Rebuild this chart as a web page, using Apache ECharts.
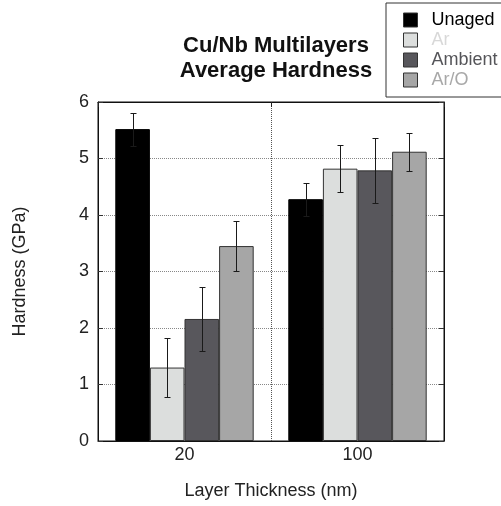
<!DOCTYPE html>
<html>
<head>
<meta charset="utf-8">
<script src="https://cdn.jsdelivr.net/npm/echarts@6/dist/echarts.min.js"></script>
<style>
  html, body { margin: 0; padding: 0; background: #fff; }
  #chart { width: 501px; height: 506px; }
</style>
</head>
<body>
<div id="chart"></div>
<script>
// Layer thickness categories (nm)
const categories = ['20', '100'];

// Average hardness (GPa) per aging condition, with +/- error
const unaged = [5.52, 4.28];
const unagedErr = [0.29, 0.29];
const ar = [1.30, 4.82];
const arErr = [0.52, 0.42];
const ambient = [2.16, 4.79];
const ambientErr = [0.56, 0.58];
const arO = [3.45, 5.12];
const arOErr = [0.44, 0.34];

const seriesNames = ['Unaged', 'Ar', 'Ambient', 'Ar/O'];
const seriesValues = [unaged, ar, ambient, arO];
const seriesErrors = [unagedErr, arErr, ambientErr, arOErr];
const barColors = ['#000000', '#dcdedd', '#58575c', '#a6a6a6'];
const legendTextColors = ['#000000', '#d8d8d8', '#555559', '#a8a8a8'];

const FONT = '"Liberation Sans", Arial, Helvetica, sans-serif';
const CATEGORY_GAP = 0.2;

// Error-bar records: [categoryIndex, low, high, seriesIndex]
const errData = [];
seriesValues.forEach((vals, s) => {
  vals.forEach((v, c) => {
    errData.push([c, v - seriesErrors[s][c], v + seriesErrors[s][c], s]);
  });
});

function renderErrorBar(params, api) {
  const c = api.value(0);
  const lo = api.value(1);
  const hi = api.value(2);
  const s = api.value(3);
  const band = api.size([1, 0])[0];
  const group = band * (1 - CATEGORY_GAP);
  const bw = group / seriesNames.length;
  const x = Math.round(api.coord([c, 0])[0] - group / 2 + bw * (s + 0.5)) + 0.5;
  const yLo = Math.round(api.coord([c, lo])[1]) + 0.5;
  const yHi = Math.round(api.coord([c, hi])[1]) + 0.5;
  const cap = 3;
  const style = { stroke: '#1a1a1a', lineWidth: 1 };
  return {
    type: 'group',
    children: [
      { type: 'line', shape: { x1: x, y1: yLo, x2: x, y2: yHi }, style },
      { type: 'line', shape: { x1: x - cap, y1: yHi, x2: x + cap, y2: yHi }, style },
      { type: 'line', shape: { x1: x - cap, y1: yLo, x2: x + cap, y2: yLo }, style }
    ]
  };
}

const barSeries = seriesNames.map((name, s) => ({
  name,
  type: 'bar',
  data: seriesValues[s],
  barCategoryGap: (CATEGORY_GAP * 100) + '%',
  barGap: '0%',
  itemStyle: { color: barColors[s], borderColor: s === 0 ? '#000' : '#333', borderWidth: 1 },
  emphasis: { disabled: true },
  animation: false,
  z: 2
}));

const chart = echarts.init(document.getElementById('chart'), null, { renderer: 'canvas' });
chart.setOption({
  animation: false,
  backgroundColor: '#ffffff',
  textStyle: { fontFamily: FONT },
  title: {
    text: 'Cu/Nb Multilayers\nAverage Hardness',
    left: 271,
    top: 28,
    textAlign: 'center',
    textStyle: { fontFamily: FONT, fontSize: 22, fontWeight: 'bold', color: '#111', lineHeight: 25 }
  },
  legend: {
    orient: 'vertical',
    left: 386,
    top: 3,
    padding: [7, 12, 7, 17],
    itemWidth: 14,
    itemHeight: 14,
    itemGap: 0,
    borderColor: '#333',
    borderWidth: 1,
    backgroundColor: '#fff',
    selectedMode: false,
    icon: 'rect',
    textStyle: { fontFamily: FONT, fontSize: 18, lineHeight: 20, padding: [0, 0, 0, 9] },
    data: seriesNames.map((n, i) => ({
      name: n,
      itemStyle: { color: barColors[i], borderColor: '#333', borderWidth: 1 },
      textStyle: { color: legendTextColors[i] }
    }))
  },
  grid: {
    left: 98, right: 57, top: 102, bottom: 65,
    show: true, borderColor: '#111', borderWidth: 1, backgroundColor: 'transparent'
  },
  xAxis: [
    {
      type: 'category',
      data: categories,
      position: 'bottom',
      axisLine: { onZero: false, lineStyle: { color: '#111' } },
      axisTick: { show: false },
      axisLabel: { fontSize: 18, color: '#222', margin: 5, fontFamily: FONT },
      splitLine: { show: true, lineStyle: { color: '#555', type: 'dotted', width: 1 } },
      name: 'Layer Thickness (nm)',
      nameLocation: 'middle',
      nameGap: 41,
      nameTextStyle: { fontSize: 18, color: '#222', fontFamily: FONT }
    },
    {
      type: 'category',
      data: categories,
      position: 'top',
      axisLine: { show: true, onZero: false, lineStyle: { color: '#111' } },
      axisTick: { show: true, inside: true, length: 5, lineStyle: { color: '#222' } },
      axisLabel: { show: false },
      splitLine: { show: false }
    }
  ],
  yAxis: [
    {
      type: 'value',
      min: 0,
      max: 6,
      interval: 1,
      position: 'left',
      axisLine: { show: true, onZero: false, lineStyle: { color: '#111' } },
      axisTick: { show: true, inside: true, length: 5, lineStyle: { color: '#333' } },
      axisLabel: { fontSize: 18, color: '#222', margin: 9, fontFamily: FONT },
      splitLine: { show: true, lineStyle: { color: '#888', type: 'dotted', width: 1 } },
      name: 'Hardness (GPa)',
      nameLocation: 'middle',
      nameGap: 69,
      nameTextStyle: { fontSize: 18, color: '#222', fontFamily: FONT }
    },
    {
      type: 'value',
      min: 0,
      max: 6,
      interval: 1,
      position: 'right',
      axisLine: { show: true, onZero: false, lineStyle: { color: '#111' } },
      axisTick: { show: true, inside: true, length: 5, lineStyle: { color: '#333' } },
      axisLabel: { show: false },
      splitLine: { show: false }
    }
  ],
  series: [
    ...barSeries,
    {
      name: 'error',
      type: 'custom',
      renderItem: renderErrorBar,
      data: errData,
      encode: { x: 0, y: [1, 2] },
      z: 3,
      silent: true,
      animation: false
    }
  ]
});
</script>
</body>
</html>
